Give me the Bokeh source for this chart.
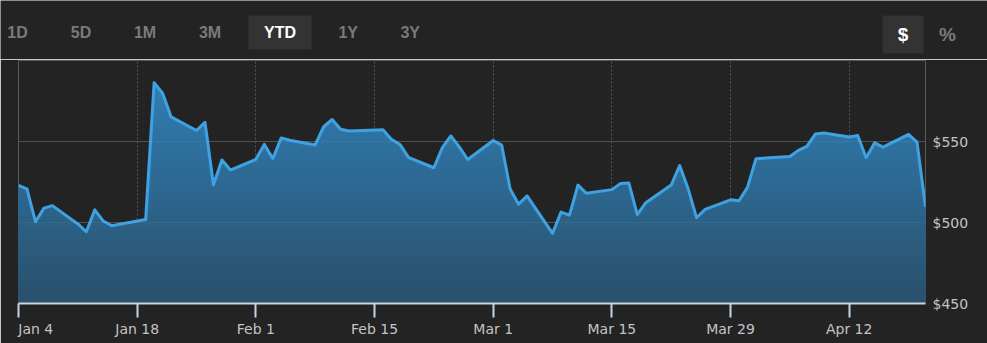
import numpy as np
import pandas as pd
from bokeh.plotting import figure
from bokeh.layouts import column
from bokeh.models import Range1d, FixedTicker, NumeralTickFormatter, Span
from bokeh.core.properties import value
from bokeh.embed import file_html
from bokeh.resources import INLINE

# ---------------- data ----------------
dates = [
    "2021-01-04", "2021-01-05", "2021-01-06", "2021-01-07", "2021-01-08",
    "2021-01-11", "2021-01-12", "2021-01-13", "2021-01-14", "2021-01-15",
    "2021-01-19", "2021-01-20", "2021-01-21", "2021-01-22",
    "2021-01-25", "2021-01-26", "2021-01-27", "2021-01-28", "2021-01-29",
    "2021-02-01", "2021-02-02", "2021-02-03", "2021-02-04", "2021-02-05",
    "2021-02-08", "2021-02-09", "2021-02-10", "2021-02-11", "2021-02-12",
    "2021-02-16", "2021-02-17", "2021-02-18", "2021-02-19",
    "2021-02-22", "2021-02-23", "2021-02-24", "2021-02-25", "2021-02-26",
    "2021-03-01", "2021-03-02", "2021-03-03", "2021-03-04", "2021-03-05",
    "2021-03-08", "2021-03-09", "2021-03-10", "2021-03-11", "2021-03-12",
    "2021-03-15", "2021-03-16", "2021-03-17", "2021-03-18", "2021-03-19",
    "2021-03-22", "2021-03-23", "2021-03-24", "2021-03-25", "2021-03-26",
    "2021-03-29", "2021-03-30", "2021-03-31", "2021-04-01",
    "2021-04-05", "2021-04-06", "2021-04-07", "2021-04-08", "2021-04-09",
    "2021-04-12", "2021-04-13", "2021-04-14", "2021-04-15", "2021-04-16",
    "2021-04-19", "2021-04-20", "2021-04-21",
]
close = [
    522.9, 520.8, 500.5, 508.9, 510.4,
    499.1, 494.3, 507.8, 500.9, 498.0,
    501.8, 586.3, 579.8, 565.2,
    556.8, 561.9, 523.3, 538.6, 532.4,
    539.0, 548.2, 539.5, 552.2, 550.8,
    547.9, 559.1, 563.6, 557.6, 556.5,
    557.3, 551.3, 548.2, 540.2,
    533.8, 546.2, 553.4, 546.7, 538.9,
    550.6, 547.8, 520.7, 511.3, 516.4,
    493.3, 506.4, 504.5, 523.1, 518.0,
    520.3, 524.0, 524.4, 504.8, 512.2,
    523.1, 535.1, 520.8, 502.9, 508.1,
    514.0, 513.4, 521.7, 539.4,
    540.7, 544.5, 547.0, 554.6, 555.3,
    552.8, 553.7, 540.0, 549.2, 546.5,
    554.4, 549.6, 509.5,
]
tick_dates = ["2021-01-04", "2021-01-18", "2021-02-01", "2021-02-15",
              "2021-03-01", "2021-03-15", "2021-03-29", "2021-04-12"]
tick_labels = ["Jan 4", "Jan 18", "Feb 1", "Feb 15",
               "Mar 1", "Mar 15", "Mar 29", "Apr 12"]
y_ticks = [450, 500, 550]
y_grid_ticks = [450, 500, 550, 600]
y_min, y_max = 450, 600

range_buttons = ["1D", "5D", "1M", "3M", "YTD", "1Y", "3Y"]
active_range = "YTD"
unit_buttons = ["$", "%"]
active_unit = "$"

# ---------------- style / layout constants ----------------
BG = "#232323"
W, H = 987, 343
BAR_H = 59
FONT = "DejaVu Sans"
BTN_FONT = "Liberation Sans"
range_btn_x = [17, 80.5, 144.5, 209.5, 279.5, 347.7, 409.7]
range_btn_box = (248, 311, 15, 49)
unit_btn_x = [902.5, 947]
unit_btn_box = (882, 923, 15, 53)

# ---------------- top button bar ----------------
top = figure(width=W, height=BAR_H, x_range=Range1d(0, W), y_range=Range1d(BAR_H, 0),
             x_axis_location=None, y_axis_location=None,
             output_backend="svg", toolbar_location=None, min_border=0)
top.frame_align = False
top.background_fill_color = BG
top.border_fill_color = BG
top.outline_line_color = None
top.grid.visible = False

top.quad(left=[range_btn_box[0]], right=[range_btn_box[1]],
         top=[range_btn_box[2]], bottom=[range_btn_box[3]],
         fill_color="#333333", line_color=None)
top.quad(left=[unit_btn_box[0]], right=[unit_btn_box[1]],
         top=[unit_btn_box[2]], bottom=[unit_btn_box[3]],
         fill_color="#333333", line_color=None)
top.text(x=range_btn_x, y=[32] * len(range_buttons), text=range_buttons,
         text_color=["#ffffff" if b == active_range else "#7a7a7a" for b in range_buttons],
         text_font=value(BTN_FONT), text_font_style="bold", text_font_size="16px",
         text_align="center", text_baseline="middle")
top.text(x=unit_btn_x, y=[34] * len(unit_buttons), text=unit_buttons,
         text_color=["#ffffff" if b == active_unit else "#7a7a7a" for b in unit_buttons],
         text_font=value(BTN_FONT), text_font_style="bold", text_font_size="19px",
         text_align="center", text_baseline="middle")

# ---------------- main chart ----------------
x = pd.to_datetime(dates)
y = np.array(close)
tick_ms = [int(pd.Timestamp(d).value // 10**6) for d in tick_dates]

p = figure(width=W, height=H - BAR_H, x_axis_type="datetime", y_axis_location="right",
           x_range=Range1d(x[0], x[-1]), y_range=Range1d(y_min, y_max),
           output_backend="svg", toolbar_location=None,
           min_border_left=18, min_border_right=62, min_border_top=1, min_border_bottom=40)
p.frame_align = False
p.background_fill_color = BG
p.border_fill_color = BG
p.outline_line_color = None

# grids
p.xgrid.grid_line_color = "#555555"
p.xgrid.grid_line_dash = "2 2"
p.xgrid.grid_line_width = 1
p.ygrid.ticker = FixedTicker(ticks=y_grid_ticks)
p.ygrid.grid_line_color = "#484848"
p.ygrid.grid_line_width = 1

# gradient area built from stacked bands
top_rgb = np.array([49, 129, 186])
bot_rgb = np.array([42, 80, 106])
step = 3
for L in np.arange(y_max, y_min, -step):
    t = (L - y_min) / (y_max - y_min)
    c = (bot_rgb + (top_rgb - bot_rgb) * t).astype(int)
    p.varea(x=x, y1=np.full(len(y), y_min), y2=np.minimum(y, L),
            fill_color="#%02x%02x%02x" % tuple(c), fill_alpha=1.0)

for v in y_ticks[1:]:
    p.add_layout(Span(location=v, dimension="width", line_color="#ffffff",
                      line_alpha=0.05, line_width=1))

p.line(x=x, y=y, line_color="#3ea2e2", line_width=3, line_join="round")

# x axis
xa = p.xaxis[0]
xa.ticker = FixedTicker(ticks=tick_ms)
overrides = {float(ms): lab for ms, lab in zip(tick_ms, tick_labels)}
# first label sits to the right of its tick (kept inside the chart edge)
overrides[float(tick_ms[0])] = "\u00a0" * 4 + tick_labels[0]
xa.major_label_overrides = overrides
xa.axis_line_color = "#c8d3e2"
xa.axis_line_width = 2
xa.major_tick_line_color = "#c8d3e2"
xa.major_tick_line_width = 2
xa.major_tick_in = 0
xa.major_tick_out = 14
xa.minor_tick_line_color = None
xa.major_label_standoff = 3
xa.major_label_text_font = FONT
xa.major_label_text_font_size = "14px"
xa.major_label_text_color = "#c4c4c4"

# y axis (right)
ya = p.yaxis[0]
ya.ticker = FixedTicker(ticks=y_ticks)
ya.formatter = NumeralTickFormatter(format="$0")
ya.axis_line_color = None
ya.major_tick_line_color = None
ya.major_tick_in = 0
ya.major_tick_out = 0
ya.minor_tick_line_color = None
ya.major_label_standoff = 7
ya.major_label_text_font = FONT
ya.major_label_text_font_size = "14px"
ya.major_label_text_color = "#c4c4c4"

layout = column(top, p, spacing=0)
open("out.html", "w").write(file_html(layout, INLINE))
